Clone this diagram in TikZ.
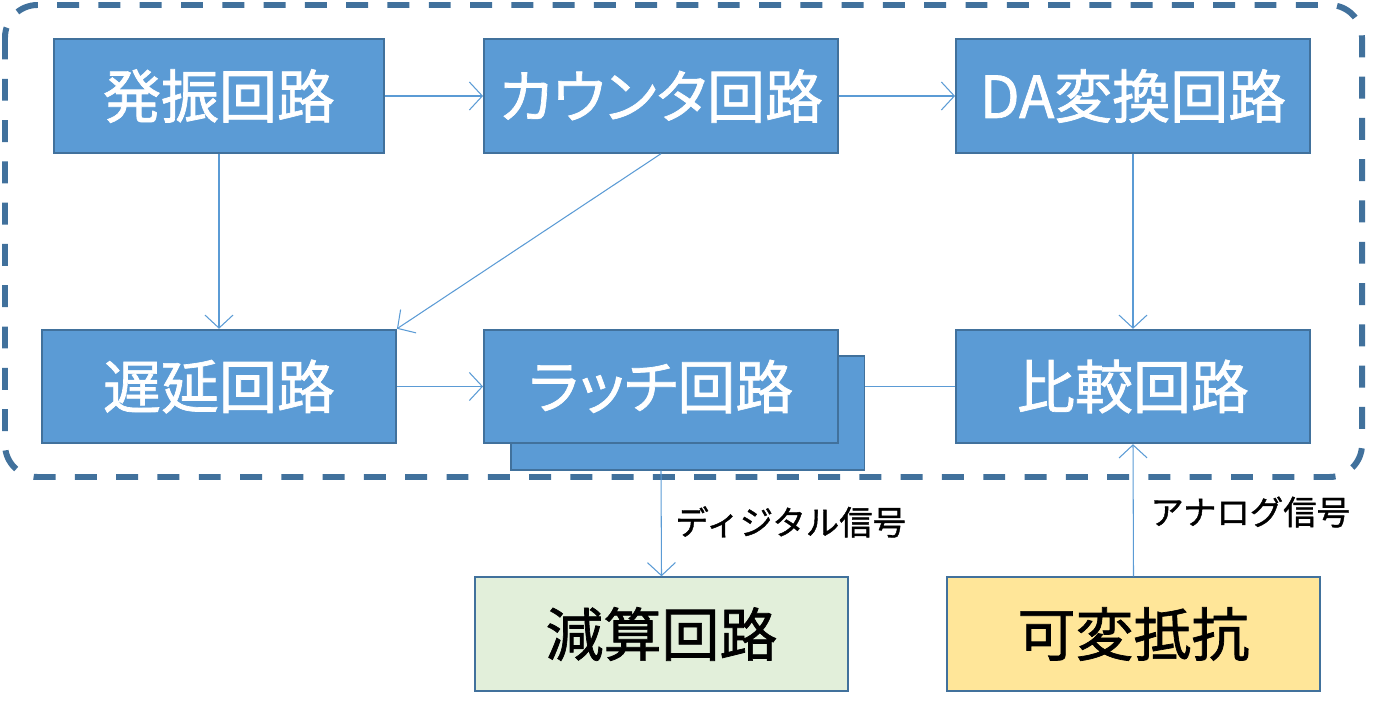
\documentclass[tikz,border=0pt]{standalone}
\usepackage{fontspec}
\setmainfont{Noto Sans CJK JP}
\newfontfamily\blockfont[FakeBold=1.2]{Noto Sans CJK JP}
\newfontfamily\kanafont[FakeBold=1.2,CharacterWidth=AlternateProportional]{Noto Sans CJK JP}
\usetikzlibrary{arrows.meta}

\definecolor{boxblue}{HTML}{5B9BD5}
\definecolor{edgeblue}{HTML}{41719C}
\definecolor{subgreen}{HTML}{E2EFDA}
\definecolor{resyellow}{HTML}{FFE699}

\tikzset{
  block/.style={draw=edgeblue, line width=1.1pt, fill=boxblue, text=white,
    minimum width=7.08cm, minimum height=2.27cm, inner sep=0pt, font=\blockfont\fontsize{33}{38}\selectfont},
  kanablock/.style={block, font=\kanafont\fontsize{33}{38}\selectfont},
  outblock/.style={block, minimum width=7.46cm, text=black},
  sig/.style={draw=boxblue, line width=0.6pt, -{Straight Barb[length=2.6mm,width=5.6mm]}},
  siglabel/.style={font=\blockfont\fontsize{19}{23}\selectfont, anchor=west, inner sep=0pt}
}

\begin{document}
\begin{tikzpicture}[x=0.02cm, y=-0.02cm]
\useasboundingbox (0,0) rectangle (1386,705);

%% frame
\draw[edgeblue, line width=3.4pt, dash pattern=on 12.5pt off 11pt, rounded corners=0.65cm]
  (5,5) rectangle (1362,477);

%% blocks
\node[block, minimum width=6.6cm] (osc) at (219,96) {発振回路};
\node[kanablock] (counter) at (661,96) {カウンタ回路};
\node[block] (dac) at (1133,96) {DA変換回路};
\node[block] (delay) at (219,386.5) {遅延回路};
\node[block] (latchback) at (687.5,413) {};
\node[kanablock] (latch) at (661,386.5) {ラッチ回路};
\node[block] (comp) at (1133,386.5) {比較回路};
\node[outblock, fill=subgreen] (sub) at (661.5,634) {減算回路};
\node[outblock, fill=resyellow] (res) at (1133.5,634) {可変抵抗};

%% connectors
\draw[sig] (osc.east) -- (counter.west);
\draw[sig] (counter.east) -- (dac.west);
\draw[sig] (osc.south) -- (delay.north);
\draw[sig] (counter.south) -- (delay.north east);
\draw[sig] (dac.south) -- (comp.north);
\draw[sig] (delay.east) -- (latch.west);
\draw[draw=boxblue, line width=0.6pt] (comp.west) -- (latchback.east |- comp.west);
\draw[sig] (latchback.south -| latch.south) -- (sub.north);
\draw[sig] (res.north) -- (comp.south);

%% labels
\node[siglabel] (digital) at (675,522) {ディジタル信号};
\node[siglabel] (analog) at (1150,512) {アナログ信号};

\end{tikzpicture}
\end{document}
